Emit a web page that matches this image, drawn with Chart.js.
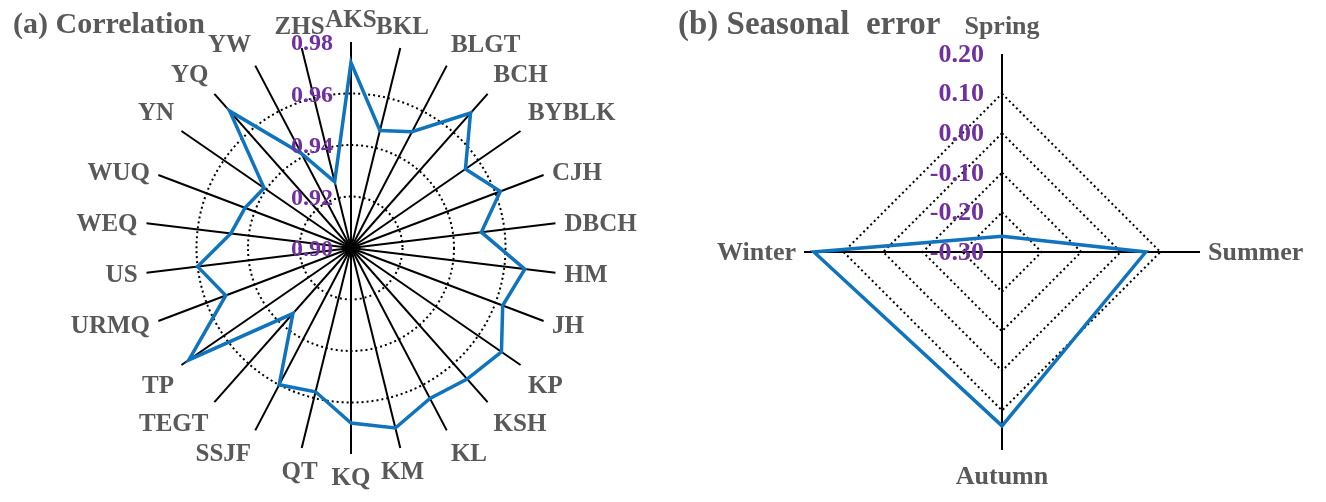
<!DOCTYPE html>
<html><head><meta charset="utf-8">
<script src="https://cdn.jsdelivr.net/npm/chart.js@4.4.1/dist/chart.umd.min.js"></script>
<style>
html,body{margin:0;padding:0;background:#fff;}
#wrap{position:relative;width:1326px;height:502px;overflow:hidden;background:#fff;}
canvas{position:absolute;top:0;}
#c1{left:0;} #c2{left:660px;}
.title{position:absolute;font-family:"Liberation Serif","Times New Roman",serif;font-weight:bold;color:#595959;white-space:pre;}
</style></head><body>
<div id="wrap">
<canvas id="c1" width="700" height="502"></canvas>
<canvas id="c2" width="666" height="502"></canvas>
<div class="title" style="left:13px;top:8px;font-size:30px;line-height:30px">(a) Correlation</div>
<div class="title" style="left:678px;top:7px;font-size:33px;line-height:33px">(b) Seasonal  error</div>
</div>
<script>
// ---- data: (a) correlation ----
const stations = ['AKS','BKL','BLGT','BCH','BYBLK','CJH','DBCH','HM','JH','KP','KSH','KL','KM','KQ','QT','SSJF','TEGT','TP','URMQ','US','WEQ','WUQ','YN','YQ','YW','ZHS'];
const correlation = [0.972,0.947,0.951,0.970,0.954,0.962,0.951,0.968,0.963,0.971,0.968,0.966,0.972,0.968,0.9575,0.960,0.934,0.9765,0.952,0.960,0.947,0.944,0.941,0.971,0.9415,0.9265];
const corrTickValues = [0.90,0.92,0.94,0.96,0.98];
const corrTickLabels = ['0.90','0.92','0.94','0.96','0.98'];

// ---- data: (b) seasonal error ----
const seasons = ['Spring','Summer','Autumn','Winter'];
const seasonalError = [-0.26,0.063,0.139,0.175];
const seasonTickValues = [-0.30,-0.20,-0.10,0.00,0.10,0.20];
const seasonTickLabels = ['-0.30','-0.20','-0.10','0.00','0.10','0.20'];

const SERIF = '"Liberation Serif","Times New Roman",serif';
const LABEL_GRAY = '#595959';
const TICK_PURPLE = '#7030A0';
const LINE_BLUE = '#0f73bd';

// plugin: draw tick labels (right-aligned beside vertical axis) and point labels
const labelPlugin = {
  id: 'customLabels',
  afterDatasetsDraw(chart) {
    const o = chart.options.plugins.customLabels;
    const s = chart.scales.r;
    const ctx = chart.ctx;
    ctx.save();
    // tick labels
    ctx.font = 'bold ' + o.tickSize + 'px ' + SERIF;
    ctx.fillStyle = TICK_PURPLE;
    ctx.textAlign = 'right';
    ctx.textBaseline = 'middle';
    o.tickValues.forEach((v, i) => {
      const y = s.yCenter - s.getDistanceFromCenterForValue(v) + o.tickDy;
      ctx.fillText(o.tickLabels[i], s.xCenter - o.tickOffset, y);
    });
    // point labels
    ctx.font = 'bold ' + o.labelSize + 'px ' + SERIF;
    ctx.fillStyle = LABEL_GRAY;
    chart.data.labels.forEach((lab, i) => {
      const p = s.getPointPosition(i, s.drawingArea + o.pad);
      const a = p.angle + Math.PI / 2;
      const sn = Math.sin(a), cs = Math.cos(a);
      ctx.textAlign = Math.abs(sn) < 0.3 ? 'center' : (sn > 0 ? 'left' : 'right');
      let dy = o.midOff;
      if (cs > 0.4) dy = o.topOff; else if (cs < -0.4) dy = o.botOff;
      ctx.fillText(lab, p.x, p.y + dy);
    });
    ctx.restore();
  }
};

function radarConfig(labels, values, tickValues, tickLabels, pad, opts) {
  const last = tickValues.length - 1;
  return {
    type: 'radar',
    data: { labels: labels, datasets: [{
      data: values, borderColor: LINE_BLUE, borderWidth: opts.lineW, fill: false,
      pointRadius: 0, pointHoverRadius: 0, tension: 0
    }]},
    options: {
      responsive: false, animation: false, devicePixelRatio: 1,
      layout: { padding: pad },
      plugins: {
        legend: { display: false }, tooltip: { enabled: false }, title: { display: false },
        customLabels: Object.assign({ tickValues: tickValues, tickLabels: tickLabels }, opts.text)
      },
      scales: { r: {
        min: tickValues[0], max: tickValues[last],
        afterBuildTicks: (scale) => { scale.ticks = tickValues.map(v => ({ value: v })); },
        ticks: { display: false },
        pointLabels: { display: false },
        grid: {
          circular: opts.circular,
          color: (c) => (c.index === last ? 'rgba(0,0,0,0)' : '#000'),
          lineWidth: opts.gridW
        },
        border: { dash: opts.dash },
        angleLines: { color: '#000', lineWidth: opts.spokeW }
      }}
    },
    plugins: [labelPlugin]
  };
}

new Chart(document.getElementById('c1'), radarConfig(
  stations, correlation, corrTickValues, corrTickLabels,
  { left: 145, top: 42, right: 143, bottom: 48 },
  { circular: true, lineW: 3.5, gridW: 2, dash: [2, 3], spokeW: 2,
    text: { tickSize: 24, tickOffset: 18, tickDy: 2, labelSize: 25, pad: 9, topOff: -12, midOff: 2, botOff: 16 } }
));

new Chart(document.getElementById('c2'), radarConfig(
  seasons, seasonalError, seasonTickValues, seasonTickLabels,
  { left: 144, top: 54, right: 126, bottom: 52 },
  { circular: false, lineW: 3.5, gridW: 2, dash: [2, 3], spokeW: 2,
    text: { tickSize: 26, tickOffset: 18, tickDy: 1, labelSize: 26, pad: 8, topOff: -19, midOff: 1, botOff: 19 } }
));
</script>
</body></html>
